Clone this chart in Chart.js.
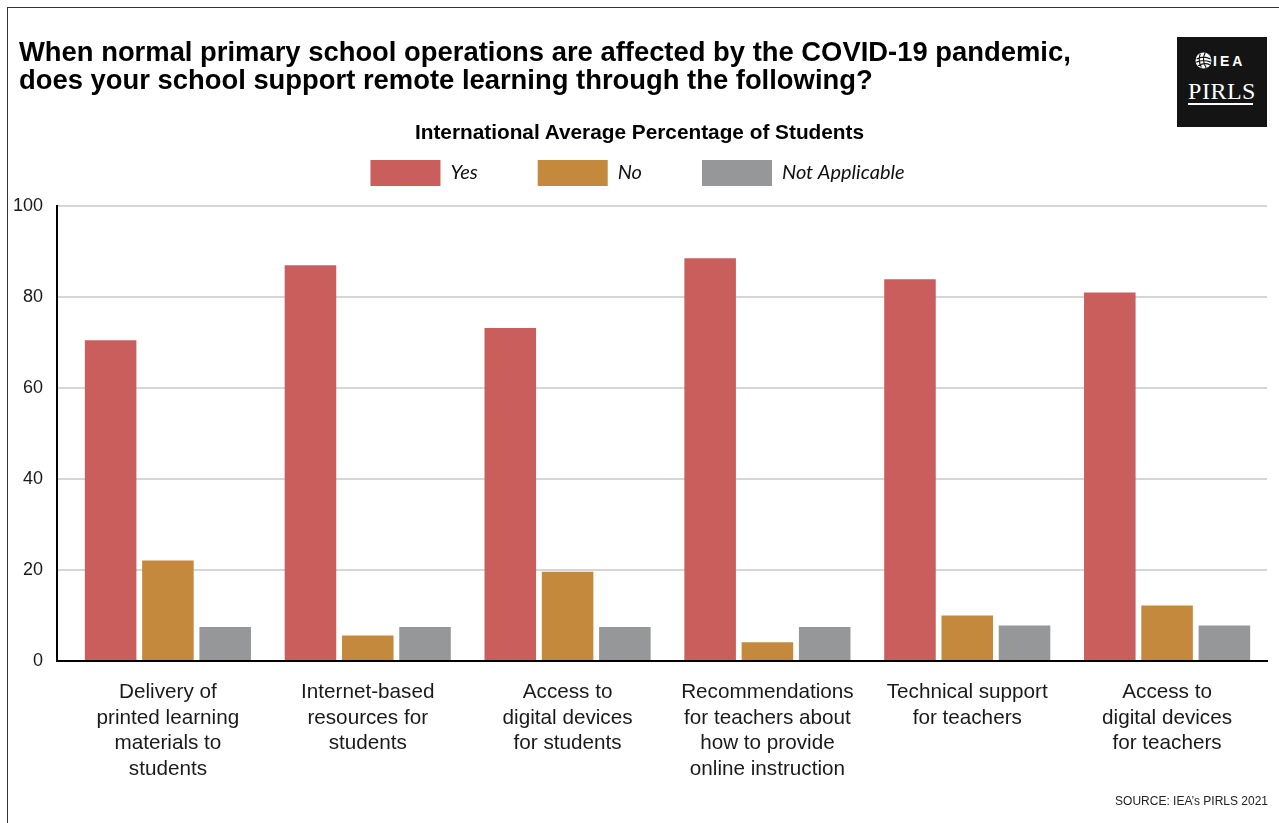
<!DOCTYPE html>
<html>
<head>
<meta charset="utf-8">
<title>Remote learning support during COVID-19</title>
<script src="https://cdn.jsdelivr.net/npm/chart.js@4/dist/chart.umd.min.js"></script>
<style>
  html, body { margin: 0; padding: 0; background: #fff; }
  body { width: 1279px; height: 823px; position: relative; overflow: hidden; font-family: "Liberation Sans", Arial, Helvetica, sans-serif; }
  #frame { position: absolute; left: 7px; top: 7px; width: 1280px; height: 830px; border-left: 1px solid #333; border-top: 1px solid #333; }
  #wrap { position: absolute; left: 0; top: 0; width: 1279px; height: 823px; }
  .txt { position: absolute; pointer-events: none; color: #000; }
  #title { left: 19px; top: 38px; font-weight: bold; font-size: 27.4px; line-height: 28px; white-space: nowrap; }
  #subtitle { left: 0; width: 1279px; top: 120px; text-align: center; font-weight: bold; font-size: 20.8px; line-height: 24px; }
  #source { right: 11px; top: 794px; font-size: 12px; line-height: 14px; color: #222; }
  #logo { position: absolute; left: 1177px; top: 37px; width: 90px; height: 90px; background: #141414; }
  #logo svg { position: absolute; left: 18px; top: 15px; }
  #logo .iea { position: absolute; left: 36px; top: 17px; color: #fff; font-weight: bold; font-size: 14px; line-height: 14px; letter-spacing: 3px; }
  #logo .pirls { position: absolute; left: 0; width: 90px; top: 41px; text-align: center; color: #fff; font-family: "Liberation Serif", "DejaVu Serif", serif; font-size: 24px; line-height: 26px; letter-spacing: 0.5px; }
  #logo .rule { position: absolute; left: 11px; top: 66px; width: 65px; height: 2px; background: #fff; }
</style>
</head>
<body>
<div id="frame"></div>
<div id="wrap"><canvas id="chart"></canvas></div>
<div class="txt" id="title">When normal primary school operations are affected by the COVID-19 pandemic,<br>does your school support remote learning through the following?</div>
<div class="txt" id="subtitle">International Average Percentage of Students</div>
<div class="txt" id="source">SOURCE: IEA’s PIRLS 2021</div>
<div id="logo">
  <svg width="17" height="17" viewBox="0 0 16 16">
    <circle cx="8" cy="8" r="7.5" fill="#fff"/>
    <path d="M1.5 6.5 Q8 3 14.5 6.5 M1.2 9.5 Q8 6.5 14.8 9.5 M3 13 Q9 9.5 14 12 M5 1.5 Q2.5 8 6 14.5 M9.5 0.8 Q6 8 10.5 15" stroke="#141414" stroke-width="1.1" fill="none"/>
  </svg>
  <div class="iea">IEA</div>
  <div class="pirls">PIRLS</div>
  <div class="rule"></div>
</div>
<script>
// school responses, international average percent of students
const categories = [
  ['Delivery of', 'printed learning', 'materials to', 'students'],
  ['Internet-based', 'resources for', 'students'],
  ['Access to', 'digital devices', 'for students'],
  ['Recommendations', 'for teachers about', 'how to provide', 'online instruction'],
  ['Technical support', 'for teachers'],
  ['Access to', 'digital devices', 'for teachers']
];
const yesValues = [70.5, 87.0, 73.2, 88.5, 83.9, 81.0];
const noValues = [22.1, 5.6, 19.6, 4.1, 10.0, 12.2];
const naValues = [7.5, 7.5, 7.5, 7.5, 7.8, 7.8];
const yTicks = [0, 20, 40, 60, 80, 100];

const labelFont = { family: '"Liberation Sans", Arial, sans-serif', size: 20.7, lineHeight: 1.23 };

// leave a little air between the legend row and the plot
const legendGap = {
  id: 'legendGap',
  afterInit(chart) {
    const legend = chart.legend;
    if (!legend || legend._gapped) return;
    const fit = legend.fit;
    legend.fit = function () {
      fit.call(this);
      this.height += 10;
    };
    legend._gapped = true;
  }
};

new Chart(document.getElementById('chart'), {
  type: 'bar',
  data: {
    labels: categories,
    datasets: [
      { label: 'Yes', data: yesValues, backgroundColor: '#C95E5C', borderWidth: 0 },
      { label: 'No', data: noValues, backgroundColor: '#C4893C', borderWidth: 0 },
      { label: 'Not Applicable', data: naValues, backgroundColor: '#969799', borderWidth: 0 }
    ]
  },
  options: {
    responsive: true,
    maintainAspectRatio: false,
    animation: false,
    layout: { padding: { top: 100, right: 12, bottom: 0, left: 8 } },
    datasets: { bar: { categoryPercentage: 0.86, barPercentage: 0.9 } },
    plugins: {
      title: { display: false },
      tooltip: { enabled: false },
      legend: {
        position: 'top',
        labels: {
          boxWidth: 70,
          boxHeight: 26,
          padding: 60,
          color: '#111',
          font: { family: 'Lato, "Open Sans", sans-serif', style: 'italic', size: 20 }
        }
      }
    },
    scales: {
      x: {
        grid: { display: false, drawTicks: false },
        border: { display: true, color: '#000', width: 2 },
        ticks: { color: '#1a1a1a', font: labelFont, padding: 19, maxRotation: 0, autoSkip: false },
        // first group sits a little in from the value axis
        afterBuildTicks(scale) {
          scale._startValue -= 0.055;
          scale._valueRange += 0.055;
        },
        afterFit(scale) { scale.height = 162; }
      },
      y: {
        min: 0,
        max: 100,
        afterBuildTicks(scale) { scale.ticks = yTicks.map(v => ({ value: v })); },
        grid: {
          color: ctx => (ctx.tick && ctx.tick.value === 0 ? 'rgba(0,0,0,0)' : '#d6d6d6'),
          lineWidth: 2,
          drawTicks: false
        },
        border: { display: true, color: '#000', width: 2 },
        ticks: { color: '#1a1a1a', font: { family: '"Liberation Sans", Arial, sans-serif', size: 18 }, padding: 14 },
        afterFit(scale) { scale.width = 49; }
      }
    }
  },
  plugins: [legendGap]
});
</script>
</body>
</html>
